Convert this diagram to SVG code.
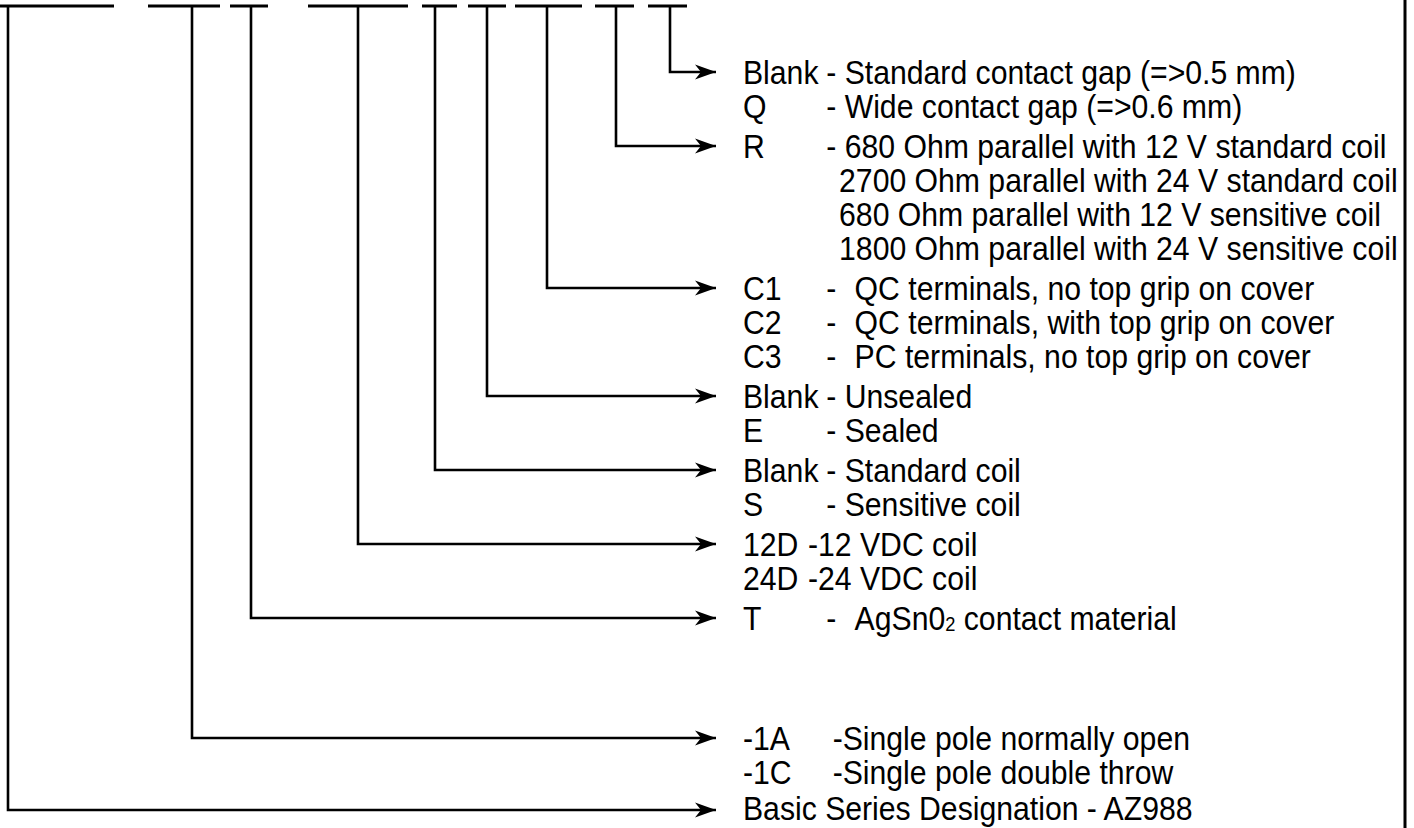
<svg xmlns="http://www.w3.org/2000/svg" width="1414" height="828" viewBox="0 0 1414 828">
<style>
.ln{fill:none;stroke:#000;stroke-width:2.6;stroke-linejoin:miter;stroke-linecap:butt}
.bar{fill:none;stroke:#000;stroke-width:3}
.t{font-family:"Liberation Sans",Arial,Helvetica,sans-serif;font-size:33px;fill:#000}
.sub{font-size:20px}
</style>
<defs>
<marker id="ah" markerUnits="userSpaceOnUse" markerWidth="24" markerHeight="18" viewBox="-22 -9 24 18" refX="0" refY="0" orient="auto">
<path d="M0,0 L-21,-7.5 L-15,0 L-21,7.5 Z" fill="#000"/>
</marker>
</defs>
<rect width="1414" height="828" fill="#fff"/>
<line x1="1405" y1="0" x2="1405" y2="828" stroke="#000" stroke-width="3"/>
<g id="bars">
<line class="bar" x1="0" y1="6" x2="114" y2="6"/>
<line class="bar" x1="148" y1="6" x2="220" y2="6"/>
<line class="bar" x1="230" y1="6" x2="268" y2="6"/>
<line class="bar" x1="308" y1="6" x2="408" y2="6"/>
<line class="bar" x1="422" y1="6" x2="457" y2="6"/>
<line class="bar" x1="468" y1="6" x2="506" y2="6"/>
<line class="bar" x1="515" y1="6" x2="582" y2="6"/>
<line class="bar" x1="595" y1="6" x2="634" y2="6"/>
<line class="bar" x1="648" y1="6" x2="687" y2="6"/>
</g>
<g id="connectors">
<polyline class="ln" marker-end="url(#ah)" points="670,6 670,72 716,72"/>
<polyline class="ln" marker-end="url(#ah)" points="616,6 616,146 716,146"/>
<polyline class="ln" marker-end="url(#ah)" points="547,6 547,288 716,288"/>
<polyline class="ln" marker-end="url(#ah)" points="487,6 487,396 716,396"/>
<polyline class="ln" marker-end="url(#ah)" points="435,6 435,470 716,470"/>
<polyline class="ln" marker-end="url(#ah)" points="358,6 358,544 716,544"/>
<polyline class="ln" marker-end="url(#ah)" points="251,6 251,618 716,618"/>
<polyline class="ln" marker-end="url(#ah)" points="192,6 192,738 716,738"/>
<polyline class="ln" marker-end="url(#ah)" points="8,6 8,810 716,810"/>
</g>
<g transform="translate(743,0) scale(0.915,1) translate(-743,0)">
<g id="gap">
<text class="t" y="84"><tspan x="743">Blank</tspan><tspan x="834">- Standard contact gap (=&gt;0.5 mm)</tspan></text>
<text class="t" y="118"><tspan x="743">Q</tspan><tspan x="834">- Wide contact gap (=&gt;0.6 mm)</tspan></text>
</g>
<g id="resistor">
<text class="t" y="158"><tspan x="743">R</tspan><tspan x="834">- 680 Ohm parallel with 12 V standard coil</tspan></text>
<text class="t" x="848" y="192">2700 Ohm parallel with 24 V standard coil</text>
<text class="t" x="848" y="226">680 Ohm parallel with 12 V sensitive coil</text>
<text class="t" x="848" y="260">1800 Ohm parallel with 24 V sensitive coil</text>
</g>
<g id="terminals">
<text class="t" y="300"><tspan x="743">C1</tspan><tspan x="834">-</tspan><tspan x="865">QC terminals, no top grip on cover</tspan></text>
<text class="t" y="334"><tspan x="743">C2</tspan><tspan x="834">-</tspan><tspan x="865">QC terminals, with top grip on cover</tspan></text>
<text class="t" y="368"><tspan x="743">C3</tspan><tspan x="834">-</tspan><tspan x="865">PC terminals, no top grip on cover</tspan></text>
</g>
<g id="sealing">
<text class="t" y="408"><tspan x="743">Blank</tspan><tspan x="834">- Unsealed</tspan></text>
<text class="t" y="442"><tspan x="743">E</tspan><tspan x="834">- Sealed</tspan></text>
</g>
<g id="sensitivity">
<text class="t" y="482"><tspan x="743">Blank</tspan><tspan x="834">- Standard coil</tspan></text>
<text class="t" y="516"><tspan x="743">S</tspan><tspan x="834">- Sensitive coil</tspan></text>
</g>
<g id="voltage">
<text class="t" y="556"><tspan x="743">12D</tspan><tspan x="814">-12 VDC coil</tspan></text>
<text class="t" y="590"><tspan x="743">24D</tspan><tspan x="814">-24 VDC coil</tspan></text>
</g>
<g id="material">
<text class="t" y="630"><tspan x="743">T</tspan><tspan x="834">-</tspan><tspan x="865">AgSn0</tspan><tspan class="sub" dy="1">2</tspan><tspan dy="-1"> contact material</tspan></text>
</g>
<g id="form">
<text class="t" y="750"><tspan x="743">-1A</tspan><tspan x="841">-Single pole normally open</tspan></text>
<text class="t" y="784"><tspan x="743">-1C</tspan><tspan x="841">-Single pole double throw</tspan></text>
</g>
<g id="series">
<text class="t" x="743" y="820">Basic Series Designation - AZ988</text>
</g>
</g>
</svg>
